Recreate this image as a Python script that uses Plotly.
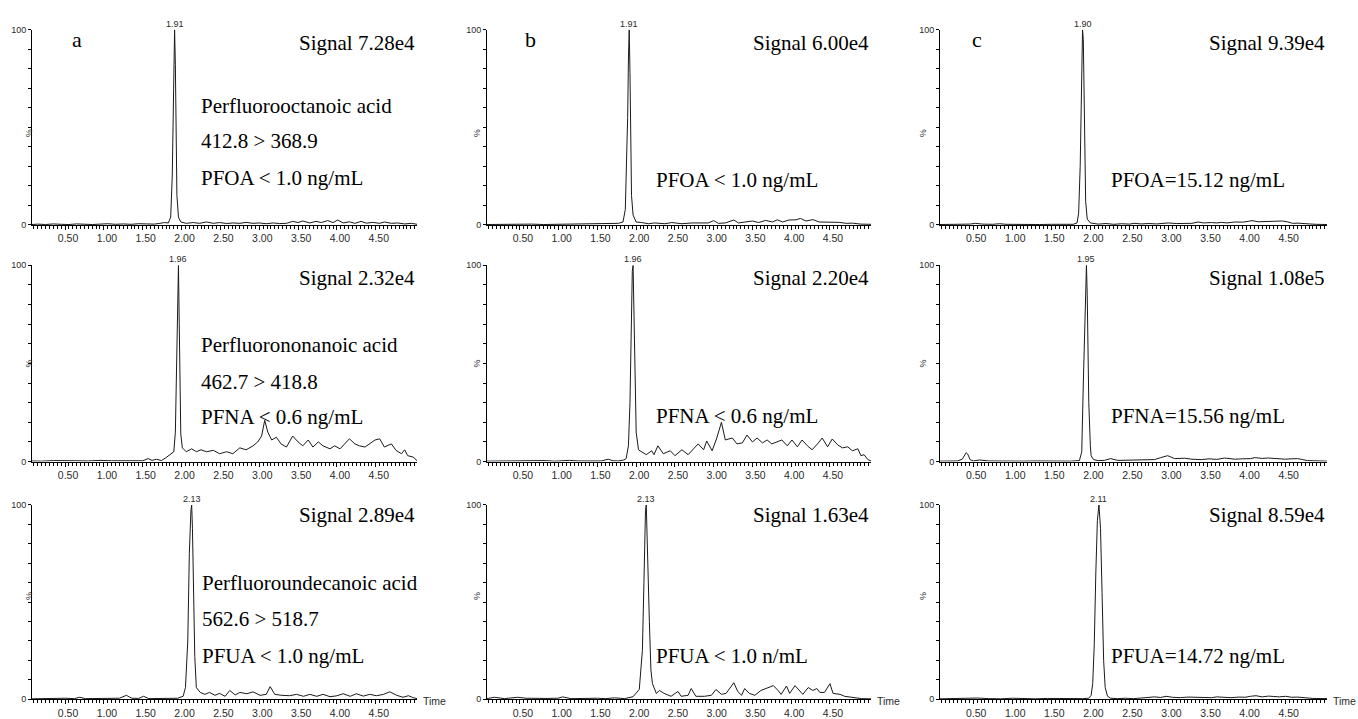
import plotly.graph_objects as go

W, H = 1358, 719

# ---------------- data (time in min, relative intensity in %) ----------------
a1_t = [0.075,0.15,0.25,0.35,0.45,0.55,0.65,0.75,0.85,0.95,1.05,1.15,1.25,1.35,1.45,1.55,1.65,1.72,1.78,1.83,
        1.86,1.88,1.89,1.90,1.91,1.92,1.93,1.94,1.96,1.99,2.06,2.15,2.23,2.32,2.41,2.49,2.58,2.66,2.75,2.83,
        2.92,3.00,3.09,3.18,3.26,3.35,3.43,3.50,3.56,3.65,3.73,3.80,3.88,3.95,4.01,4.08,4.16,4.23,4.31,4.38,
        4.46,4.55,4.61,4.70,4.78,4.87,4.96,5.03]
a1_v = [0.2,0.4,0.2,0.5,0.3,0.2,0.5,0.3,0.2,0.4,0.6,0.3,0.5,0.3,0.6,0.5,0.4,0.8,1.2,1.0,
        4,25,55,88,100,82,45,15,4,1.5,0.8,1.2,0.8,1.5,0.8,1.2,0.7,1.0,0.8,1.3,
        0.8,1.0,0.6,1.0,0.7,0.8,1.8,1.2,2.0,1.0,1.8,1.2,2.2,1.2,2.5,1.0,1.6,0.8,1.8,0.9,
        1.3,0.8,1.5,0.8,1.0,0.5,0.8,0.3]

a2_t = [0.075,0.2,0.35,0.5,0.65,0.8,0.95,1.1,1.25,1.4,1.5,1.57,1.62,1.68,1.74,1.80,1.83,1.87,1.90,1.92,
        1.93,1.94,1.95,1.96,1.97,1.98,1.99,2.01,2.06,2.13,2.19,2.25,2.32,2.41,2.49,2.58,2.66,2.75,2.83,2.92,
        2.98,3.03,3.07,3.11,3.16,3.22,3.28,3.35,3.43,3.50,3.56,3.63,3.69,3.76,3.82,3.91,3.97,4.04,4.10,4.16,
        4.23,4.29,4.36,4.42,4.49,4.55,4.61,4.70,4.76,4.83,4.87,4.91,4.98,5.03]
a2_v = [0.3,0.2,0.5,0.3,0.4,0.3,0.6,0.4,0.3,0.5,0.4,1.5,0.6,1.2,0.5,2.0,3.0,4.0,5,15,
        40,70,92,100,70,35,14,7,5,6.5,5,6,5,5.7,4,5,4,7,6,8,
        10,13,21,15,11,12.4,9,7.4,13,10,8,11,7.4,10,8,6.5,8,6.5,9,11.6,
        9,8,7.4,9,11,11.6,7.4,9,5.7,4,6,3,2.3,0.5]

a3_t = [0.075,0.2,0.35,0.5,0.62,0.69,0.76,0.9,1.05,1.2,1.29,1.36,1.45,1.51,1.58,1.7,1.85,1.95,2.02,2.05,
        2.08,2.10,2.12,2.13,2.14,2.15,2.17,2.19,2.24,2.30,2.36,2.43,2.49,2.56,2.62,2.69,2.75,2.84,2.92,3.01,
        3.09,3.14,3.20,3.29,3.39,3.48,3.57,3.65,3.74,3.82,3.91,3.99,4.08,4.17,4.25,4.34,4.42,4.51,4.60,4.68,
        4.77,4.85,4.92,4.98,5.03]
a3_v = [0.2,0.4,0.3,0.5,0.3,1.0,0.3,0.4,0.3,0.5,2.0,0.5,0.4,1.5,0.3,0.4,0.3,0.5,1.5,6,
        30,75,97,100,88,60,22,6,3.5,2.5,3.5,2,3,1.5,4.5,2.2,3.5,2.8,3.8,2.0,
        2.5,6.5,2.5,2.0,1.8,2.5,1.5,2.5,1.5,2.5,1.3,1.7,2.8,1.5,2.8,1.6,2.5,1.8,2.5,3.8,
        2.0,1.0,1.8,0.8,0.3]

b1_t = [0.075,0.2,0.35,0.5,0.65,0.8,0.95,1.1,1.25,1.4,1.55,1.7,1.77,1.83,1.86,1.88,1.89,1.90,1.91,1.92,
        1.93,1.94,1.96,2.00,2.07,2.16,2.24,2.37,2.46,2.59,2.72,2.85,2.93,3.00,3.06,3.15,3.26,3.32,3.41,3.50,
        3.58,3.67,3.76,3.82,3.89,3.97,4.06,4.12,4.19,4.28,4.36,4.45,4.54,4.62,4.71,4.79,4.90,5.03]
b1_v = [0.2,0.3,0.2,0.3,0.4,0.2,0.3,0.4,0.2,0.3,0.4,0.5,0.8,1.5,8,40,55,85,100,78,
        40,15,5,1.5,1.2,0.6,1.0,0.6,1.2,0.6,1.0,0.8,1.0,2.2,0.8,1.0,2.5,1.0,1.5,2.0,
        1.2,2.3,1.5,2.6,1.5,2.5,2.6,3.3,2.0,2.7,1.5,1.5,1.2,1.3,0.8,0.9,0.4,0.3]

b2_t = [0.075,0.2,0.35,0.5,0.65,0.81,0.95,1.05,1.14,1.25,1.4,1.55,1.64,1.70,1.77,1.84,1.87,1.90,1.92,1.93,
        1.94,1.95,1.96,1.97,1.98,1.99,2.00,2.03,2.09,2.13,2.20,2.23,2.28,2.35,2.44,2.50,2.59,2.67,2.74,2.80,
        2.87,2.91,2.98,3.04,3.10,3.15,3.24,3.30,3.37,3.43,3.50,3.56,3.63,3.69,3.75,3.82,3.88,3.95,4.01,4.08,
        4.14,4.21,4.27,4.34,4.40,4.47,4.53,4.60,4.66,4.73,4.79,4.86,4.90,4.94,4.99,5.03]
b2_v = [0.2,0.3,0.2,0.4,0.3,0.5,0.2,0.3,0.6,0.3,0.2,0.3,1.2,0.4,0.3,0.8,1.5,8,30,60,
        88,97,100,75,62,30,15,6,4.5,3.5,5.5,3.5,8,4,5.5,3,6,3.5,6.5,9,
        6,10.5,5.5,12,20,11,12,9,9.5,13.5,10,12,9.5,11,9,10,11,8,11,7.5,
        11,8,6,9,12,7.5,11.5,8.5,7,7.5,5.5,6.5,3,3.5,1,0.3]

b3_t = [0.075,0.17,0.30,0.40,0.47,0.58,0.70,0.85,0.99,1.05,1.16,1.30,1.42,1.50,1.60,1.72,1.85,1.96,2.04,2.08,
        2.10,2.11,2.12,2.13,2.14,2.15,2.17,2.19,2.21,2.26,2.30,2.36,2.45,2.54,2.58,2.67,2.71,2.77,2.88,2.97,
        3.03,3.10,3.16,3.26,3.31,3.36,3.40,3.46,3.53,3.61,3.68,3.77,3.83,3.87,3.94,3.98,4.05,4.11,4.15,4.22,
        4.28,4.33,4.37,4.43,4.50,4.54,4.63,4.69,4.78,4.84,4.91,5.03]
b3_v = [0.3,1.0,0.3,0.6,1.0,0.5,0.3,0.4,0.5,1.2,0.3,0.4,0.8,0.5,0.3,0.7,0.3,1.3,5,25,
        60,85,97,100,88,75,40,15,8,3,4.5,3,1.5,4,1.5,2,5.5,1.5,1.5,2,
        5,2.5,3,8.5,4,2,5.5,3,2,4.5,5.5,7,4.5,2.5,6.8,3,7,4,2.5,6,
        4.5,5.5,3.5,3.5,8,3,2.5,1.5,1,0.5,0.3,0.2]

c1_t = [0.075,0.2,0.35,0.45,0.53,0.62,0.75,0.84,0.92,1.05,1.2,1.35,1.5,1.6,1.7,1.78,1.83,1.85,1.87,1.88,
        1.89,1.90,1.91,1.92,1.93,1.94,1.96,2.00,2.1,2.2,2.3,2.4,2.5,2.56,2.65,2.75,2.85,2.92,3.0,3.1,
        3.2,3.3,3.38,3.45,3.55,3.62,3.68,3.75,3.85,3.95,4.02,4.07,4.15,4.22,4.28,4.36,4.46,4.52,4.59,4.66,
        4.72,4.80,4.89,5.03]
c1_v = [0.2,0.3,0.2,0.4,0.8,0.4,0.3,0.6,0.3,0.2,0.3,0.2,0.3,0.2,0.4,0.3,1,6,30,60,
        85,100,95,70,35,12,3,1.0,0.4,0.7,0.3,0.6,0.4,0.8,0.5,0.7,0.5,0.9,1.0,0.7,
        0.9,0.8,1.5,1.0,1.2,1.0,1.3,1.0,1.5,1.4,1.8,2.2,1.6,1.7,1.5,1.8,2.0,1.6,0.8,0.9,
        0.6,0.5,0.3,0.2]

c2_t = [0.075,0.2,0.3,0.36,0.39,0.41,0.43,0.46,0.5,0.58,0.7,0.85,1.0,1.15,1.3,1.45,1.6,1.75,1.86,1.89,
        1.91,1.93,1.94,1.95,1.96,1.97,1.98,2.00,2.01,2.04,2.1,2.18,2.26,2.35,2.45,2.56,2.65,2.73,2.82,2.90,
        2.99,3.08,3.15,3.21,3.30,3.42,3.52,3.62,3.72,3.85,3.95,4.05,4.11,4.20,4.28,4.40,4.50,4.57,4.65,4.72,
        4.78,4.85,4.93,5.03]
c2_v = [0.2,0.3,0.3,1.2,3.5,4.5,3.8,1.0,0.3,0.8,0.3,0.2,0.3,0.2,0.3,0.2,0.3,0.2,0.5,5,
        40,75,92,100,85,55,30,8,3,1,0.5,0.6,1.5,0.6,0.7,0.8,1.0,1.2,1.0,2,
        3,1.5,1.8,1.7,1.2,1.0,1.4,1.1,1.8,1.2,1.4,1.5,2,1.6,1.8,1.4,1.2,1.4,1.5,1.0,
        0.5,0.4,0.3,0.2]

c3_t = [0.075,0.2,0.35,0.45,0.55,0.7,0.85,1.0,1.15,1.3,1.45,1.6,1.75,1.9,1.98,2.01,2.03,2.05,2.07,2.09,
        2.11,2.13,2.15,2.17,2.19,2.22,2.26,2.35,2.45,2.55,2.65,2.75,2.82,2.90,2.97,3.05,3.15,3.25,3.35,3.45,
        3.55,3.62,3.70,3.80,3.90,3.98,4.05,4.12,4.20,4.28,4.35,4.42,4.50,4.58,4.65,4.75,4.85,5.03]
c3_v = [0.2,0.3,0.5,0.3,0.6,0.3,0.2,0.5,0.3,0.2,0.4,0.3,0.2,0.3,0.5,2,8,28,65,92,
        100,88,55,20,6,1.5,0.5,0.3,0.5,0.3,0.6,0.8,1.2,0.9,1.5,1.0,0.8,1.1,0.9,1.0,
        0.8,1.2,0.9,0.8,1.1,1.0,1.5,1.8,1.2,1.6,1.4,1.2,1.5,1.0,1.1,0.6,0.4,0.3]

# peak apex retention times (labels) and signal intensities, row-major (a,b,c per row)
peak_rt = [1.91, 1.91, 1.90, 1.96, 1.96, 1.95, 2.13, 2.13, 2.11]
signals = ["Signal 7.28e4", "Signal 6.00e4", "Signal 9.39e4",
           "Signal 2.32e4", "Signal 2.20e4", "Signal 1.08e5",
           "Signal 2.89e4", "Signal 1.63e4", "Signal 8.59e4"]
panel_letters = ["a", "b", "c"]
compound_info = [["Perfluorooctanoic acid", "412.8 > 368.9", "PFOA < 1.0 ng/mL"],
                 ["Perfluorononanoic acid", "462.7 > 418.8", "PFNA < 0.6 ng/mL"],
                 ["Perfluoroundecanoic acid", "562.6 > 518.7", "PFUA < 1.0 ng/mL"]]
conc_b = ["PFOA < 1.0 ng/mL", "PFNA < 0.6 ng/mL", "PFUA < 1.0 n/mL"]
conc_c = ["PFOA=15.12 ng/mL", "PFNA=15.56 ng/mL", "PFUA=14.72 ng/mL"]
x_tick_vals = [0.5, 1.0, 1.5, 2.0, 2.5, 3.0, 3.5, 4.0, 4.5]
x_tick_text = ["0.50", "1.00", "1.50", "2.00", "2.50", "3.00", "3.50", "4.00", "4.50"]

series = [(a1_t, a1_v), (b1_t, b1_v), (c1_t, c1_v),
          (a2_t, a2_v), (b2_t, b2_v), (c2_t, c2_v),
          (a3_t, a3_v), (b3_t, b3_v), (c3_t, c3_v)]
for t, v in series:
    assert len(t) == len(v), (len(t), len(v))

# ---------------- layout geometry (pixels) ----------------
col_px = [(32, 417), (487, 871), (940, 1327)]
row_px = [(25, 223), (264, 463), (507, 704)]  # (y of 100 %, y of 0 %)
XR = [0.075, 5.03]

def px(x):
    return x / W

def py(y):
    return 1 - y / H

SERIF = "Liberation Serif"
SANS = "Liberation Sans"
TXT = 21
LBL = "#2a2a2a"

fig = go.Figure()
layout = dict(width=W, height=H, margin=dict(l=0, r=0, t=0, b=0),
              paper_bgcolor="white", plot_bgcolor="white", showlegend=False)
annotations = []

for i, (t, v) in enumerate(series):
    r, c = divmod(i, 3)
    k = i + 1
    xa = "x" if k == 1 else f"x{k}"
    ya = "y" if k == 1 else f"y{k}"
    fig.add_trace(go.Scatter(x=t, y=v, mode="lines", xaxis=xa, yaxis=ya,
                             line=dict(color="#1a1a1a", width=1), hoverinfo="skip"))
    x0, x1 = col_px[c]
    ytop, ybot = row_px[r]
    xkey = "xaxis" if k == 1 else f"xaxis{k}"
    ykey = "yaxis" if k == 1 else f"yaxis{k}"
    layout[xkey] = dict(domain=[px(x0), px(x1)], anchor=ya, range=XR,
                        showline=True, linecolor="black", linewidth=1,
                        showgrid=False, zeroline=False, fixedrange=True,
                        tickmode="array", tickvals=x_tick_vals, ticktext=x_tick_text,
                        ticks="outside", ticklen=4, tickcolor="black", tickwidth=1,
                        ticklabelshift=3, ticklabelstandoff=0,
                        tickfont=dict(family=SANS, size=10.5, color=LBL),
                        minor=dict(tickmode="linear", tick0=0, dtick=0.05, ticks="outside",
                                   ticklen=3, tickcolor="black", tickwidth=1, showgrid=False))
    layout[ykey] = dict(domain=[py(ybot), py(ytop)], anchor=xa, range=[0, 100],
                        showline=True, linecolor="black", linewidth=1,
                        showgrid=False, zeroline=False, fixedrange=True,
                        tickmode="array", tickvals=[0, 100], ticktext=["0", "100"],
                        ticks="outside", ticklen=3, tickcolor="black", tickwidth=1,
                        ticklabelstandoff=0,
                        tickfont=dict(family=SANS, size=9, color=LBL),
                        minor=dict(tickmode="linear", tick0=0, dtick=10, ticks="outside",
                                   ticklen=3, tickcolor="black", tickwidth=1, showgrid=False))
    # peak label
    annotations.append(dict(x=peak_rt[i], y=100, xref=xa, yref=ya, text=f"{peak_rt[i]:.2f}",
                            showarrow=False, yanchor="bottom", xanchor="center", yshift=-1,
                            font=dict(family=SANS, size=9, color=LBL)))
    # % label
    annotations.append(dict(x=px(x0 - 10), y=py((ytop + ybot) / 2), xref="paper", yref="paper",
                            text="%", textangle=-90, showarrow=False,
                            font=dict(family=SANS, size=9, color=LBL)))
    # signal
    sig_y = [39, 277, 517][r]
    annotations.append(dict(x=px(x1), y=py(sig_y), xref="paper", yref="paper", text=signals[i],
                            showarrow=False, xanchor="right", yanchor="middle",
                            font=dict(family=SERIF, size=TXT, color="black")))
    if r == 2:
        annotations.append(dict(x=px(x1 + 4), y=py(ybot + 2), xref="paper", yref="paper",
                                text="Time", showarrow=False, xanchor="left", yanchor="middle",
                                font=dict(family=SANS, size=10.5, color=LBL)))

# panel letters
for c, letter in enumerate(panel_letters):
    lx = [77, 530, 977][c]
    annotations.append(dict(x=px(lx), y=py(35), xref="paper", yref="paper", text=letter,
                            showarrow=False, xanchor="center", yanchor="middle",
                            font=dict(family=SERIF, size=22, color="black")))

# column a compound info
info_y = [[102, 138, 175], [345, 382, 418], [586, 623, 660]]
info_x = [199, 199, 200]
for r in range(3):
    for j, line in enumerate(compound_info[r]):
        annotations.append(dict(x=px(info_x[r]), y=py(info_y[r][j]), xref="paper", yref="paper",
                                text=line, showarrow=False, xanchor="left", yanchor="middle",
                                font=dict(family=SERIF, size=TXT, color="black")))
# column b and c concentrations
conc_y = [177, 417, 660]
for r in range(3):
    annotations.append(dict(x=px(654), y=py(conc_y[r]), xref="paper", yref="paper", text=conc_b[r],
                            showarrow=False, xanchor="left", yanchor="middle",
                            font=dict(family=SERIF, size=TXT, color="black")))
    annotations.append(dict(x=px(1109), y=py(conc_y[r]), xref="paper", yref="paper", text=conc_c[r],
                            showarrow=False, xanchor="left", yanchor="middle",
                            font=dict(family=SERIF, size=TXT, color="black")))

layout["annotations"] = annotations
fig.update_layout(**layout)
fig.write_html("out.html",
               config={"displayModeBar": False},
               post_script="document.body.style.margin='0';"
                           "document.documentElement.style.overflow='hidden';"
                           "document.body.style.overflow='hidden';")
